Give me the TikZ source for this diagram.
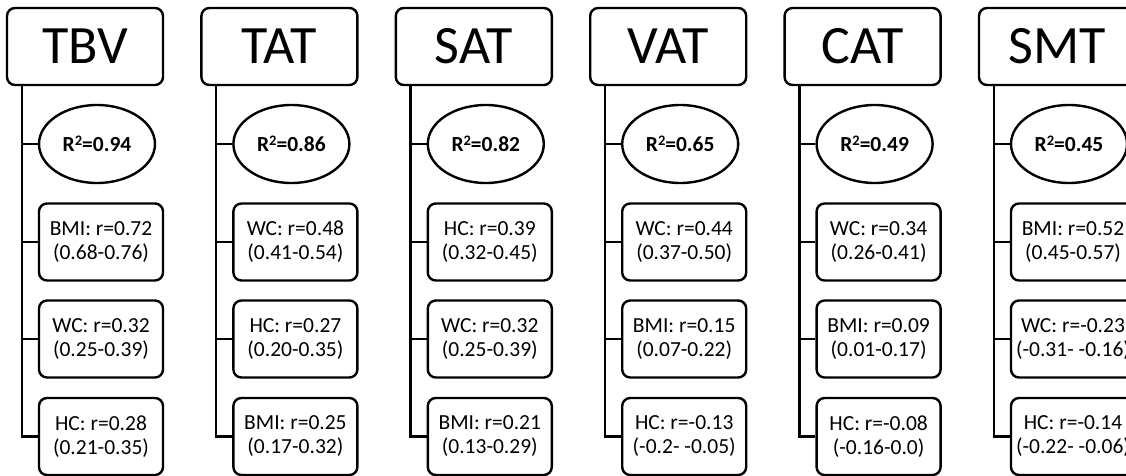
\documentclass[tikz,border=0pt]{standalone}
\usepackage{fontspec}
\setmainfont{Carlito}
\usetikzlibrary{positioning, shapes.geometric}
\newcommand{\sqtwo}{\raisebox{0.55ex}{\fontsize{14.5}{14.5}\selectfont 2}}
\tikzset{
  every picture/.style={line width=2.4pt, x=1pt, y=1pt},
  head/.style={draw, rounded corners=8pt, minimum width=156pt, minimum height=77pt, inner sep=0pt, font=\fontsize{54}{60}\selectfont},
  rsq/.style={draw, ellipse, minimum width=116pt, minimum height=78pt, inner sep=0pt, font=\fontsize{21.5}{23}\selectfont\bfseries},
  cor/.style={draw, rounded corners=8pt, minimum width=124pt, minimum height=77pt, inner sep=0pt, align=center, font=\fontsize{21.5}{24}\selectfont},
  link/.style={draw, line width=2.4pt},
}
\begin{document}
\begin{tikzpicture}
  \useasboundingbox (0,0) rectangle (1126,-476);
  \foreach \i/\name/\rval/\ta/\tb/\tc in {
    0/TBV/0.94/{BMI: r=0.72\\(0.68-0.76)}/{WC: r=0.32\\(0.25-0.39)}/{HC: r=0.28\\(0.21-0.35)},
    1/TAT/0.86/{WC: r=0.48\\(0.41-0.54)}/{HC: r=0.27\\(0.20-0.35)}/{BMI: r=0.25\\(0.17-0.32)},
    2/SAT/0.82/{HC: r=0.39\\(0.32-0.45)}/{WC: r=0.32\\(0.25-0.39)}/{BMI: r=0.21\\(0.13-0.29)},
    3/VAT/0.65/{WC: r=0.44\\(0.37-0.50)}/{BMI: r=0.15\\(0.07-0.22)}/{HC: r=-0.13\\(-0.2- -0.05)},
    4/CAT/0.49/{WC: r=0.34\\(0.26-0.41)}/{BMI: r=0.09\\(0.01-0.17)}/{HC: r=-0.08\\(-0.16-0.0)},
    5/SMT/0.45/{BMI: r=0.52\\(0.45-0.57)}/{WC: r=-0.23\\(-0.31- -0.16)}/{HC: r=-0.14\\(-0.22- -0.06)}} {
    \pgfmathsetmacro{\ox}{7+194.4*\i}
    \node[head] (hd\i) at (\ox+78, -46.5) {\name};
    \node[rsq] (r\i) at (\ox+90, -144) {R\sqtwo=\rval};
    \node[cor] (a\i) at (\ox+94, -242) {\ta};
    \node[cor] (b\i) at (\ox+94, -339) {\tb};
    \node[cor] (c\i) at (\ox+94, -436.5) {\tc};
    % trunk and branches
    \coordinate (t\i) at ([xshift=16pt]hd\i.south west);
    \draw[link] (t\i) |- (c\i.west);
    \foreach \n in {r,a,b}
      \draw[link] (t\i |- \n\i.west) -- (\n\i.west);
  }
\end{tikzpicture}
\end{document}
